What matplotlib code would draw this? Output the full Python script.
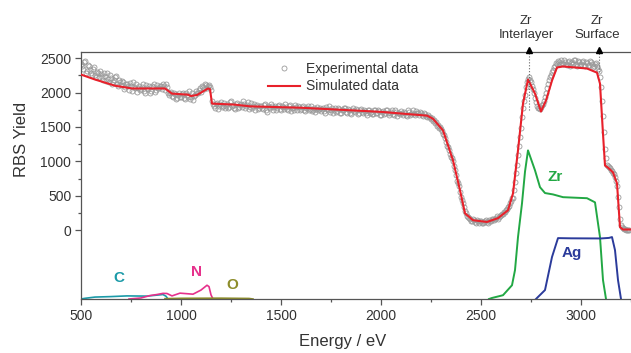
import numpy as np
import matplotlib
matplotlib.use("Agg")
import matplotlib.pyplot as plt
from matplotlib.ticker import FixedLocator, MultipleLocator

plt.rcParams['font.family'] = ['Liberation Sans', 'DejaVu Sans']

# experimental spectrum, channels at 500, 510, 520 ... eV
exp_counts_a = [
    2420, 2350, 2460, 2310, 2380, 2290, 2340, 2250, 2300, 2230,
    2270, 2190, 2240, 2280, 2160, 2210, 2150, 2230, 2120, 2180,
    2110, 2150, 2080, 2130, 2040, 2100, 2160, 2060, 2010, 2090,
    2050, 2120, 1990, 2070, 2100, 2030, 2080, 2010, 2110, 2060,
    2090, 2130, 2040, 2080, 1960, 2010, 1930, 1980, 1920, 1990,
    1940, 1990, 1910, 1960, 2020, 1930, 1890, 1960, 2000, 2040,
    2010, 2080, 2130, 2070, 2110, 2040, 1830, 1780, 1850, 1800,
    1860, 1810, 1770, 1840, 1790, 1880, 1820, 1760, 1850, 1790,
    1830, 1880, 1770, 1820, 1760, 1850, 1800, 1740, 1820, 1780,
    1810, 1760, 1830, 1720, 1790, 1840, 1750, 1800, 1770, 1820,
    1740, 1790, 1830, 1760, 1800, 1730, 1780, 1820, 1750, 1790,
    1760, 1810, 1730, 1780, 1740, 1800, 1750, 1720, 1790, 1760,
    1730, 1780, 1710, 1760, 1800, 1740, 1700, 1770, 1730, 1760,
    1710, 1750, 1780, 1700, 1740, 1690, 1770, 1720, 1750, 1700,
    1760, 1710, 1730, 1680, 1750, 1720, 1690, 1740, 1700, 1730,
    1680, 1730, 1700, 1750, 1670, 1720, 1690, 1740, 1660, 1710,
    1730, 1680, 1710, 1660, 1720, 1690, 1740, 1680, 1710, 1670,
    1700, 1660, 1690, 1640, 1650, 1620, 1580, 1560, 1520, 1480,
    1470, 1400, 1340, 1230, 1170, 1060, 1010, 870, 720, 640,
    480, 390, 280, 210, 180, 140, 160, 120, 150, 110,
    130, 100, 140, 120, 150, 130, 170, 160, 200, 190,
    220, 240, 270, 310, 350, 430, 470, 700, 950, 1230,
    1480, 1780, 1960, 2150, 2230, 2160, 2050, 1920, 1800, 1770,
    1790, 1840, 1930, 2060, 2180, 2260, 2330, 2390, 2420, 2440,
    2470, 2420, 2450, 2400, 2460, 2430, 2410, 2470, 2390, 2440,
    2420, 2460, 2380, 2430, 2400, 2450, 2370, 2410, 2390, 2310,
    2080, 1660, 1180, 950, 920, 880, 830, 780, 640, 330,
    80, 30, 20, 10, 0,
]
# channels at 505, 515, 525 ... eV
exp_counts_b = [
    2380, 2440, 2290, 2400, 2330, 2260, 2370, 2220, 2280, 2320,
    2230, 2290, 2170, 2200, 2260, 2130, 2190, 2240, 2100, 2150,
    2170, 2050, 2120, 2090, 2140, 2030, 2080, 2120, 2070, 2040,
    2080, 2020, 2110, 2050, 2000, 2090, 2130, 2040, 2070, 2100,
    2050, 2100, 2120, 1990, 2000, 1950, 1990, 1910, 1960, 1940,
    1980, 1920, 2000, 1940, 1900, 1990, 1950, 2030, 1990, 2060,
    2090, 2050, 2110, 2100, 2080, 1880, 1800, 1830, 1760, 1840,
    1790, 1850, 1800, 1770, 1860, 1810, 1780, 1830, 1770, 1820,
    1790, 1840, 1800, 1860, 1790, 1770, 1830, 1800, 1760, 1810,
    1780, 1820, 1750, 1800, 1770, 1810, 1790, 1740, 1810, 1760,
    1800, 1760, 1790, 1740, 1820, 1770, 1750, 1790, 1810, 1740,
    1790, 1750, 1770, 1810, 1760, 1730, 1780, 1760, 1740, 1780,
    1760, 1730, 1790, 1740, 1720, 1770, 1750, 1720, 1780, 1710,
    1740, 1770, 1720, 1760, 1710, 1750, 1730, 1760, 1690, 1740,
    1720, 1750, 1700, 1740, 1710, 1690, 1750, 1710, 1740, 1680,
    1720, 1690, 1740, 1700, 1710, 1750, 1680, 1720, 1700, 1690,
    1700, 1720, 1680, 1740, 1670, 1710, 1690, 1730, 1700, 1720,
    1680, 1710, 1660, 1680, 1640, 1630, 1600, 1570, 1530, 1500,
    1440, 1380, 1280, 1210, 1110, 1050, 940, 800, 690, 560,
    440, 330, 250, 190, 160, 130, 150, 110, 140, 130,
    110, 120, 150, 110, 140, 160, 150, 180, 170, 210,
    230, 260, 290, 330, 390, 470, 590, 830, 1100, 1350,
    1640, 1880, 2080, 2200, 2190, 2100, 1990, 1860, 1780, 1760,
    1820, 1880, 1990, 2120, 2220, 2300, 2370, 2430, 2460, 2410,
    2430, 2480, 2410, 2440, 2390, 2450, 2470, 2420, 2460, 2400,
    2450, 2400, 2440, 2390, 2460, 2410, 2380, 2430, 2350, 2230,
    1880, 1420, 1050, 940, 900, 860, 810, 720, 480, 160,
    50, 20, 10, 10,
]
exp_energy = np.concatenate([500 + 10 * np.arange(len(exp_counts_a)),
                             505 + 10 * np.arange(len(exp_counts_b))])
exp_counts = np.concatenate([exp_counts_a, exp_counts_b])

# simulated spectrum
sim_energy = [500, 570, 670, 755, 920, 955, 1035, 1050, 1080, 1135, 1145, 1155,
              1270, 1345, 1600, 2000, 2230, 2260, 2310, 2360, 2395, 2420, 2460,
              2530, 2585, 2635, 2660, 2685, 2710, 2735, 2770, 2800, 2825, 2855,
              2880, 2910, 3030, 3080, 3095, 3110, 3120, 3135, 3160, 3180, 3195,
              3210, 3250]
sim_counts = [2262, 2190, 2100, 2060, 2060, 1985, 1970, 1950, 1965, 2060, 2050, 1840,
              1825, 1800, 1780, 1720, 1665, 1620, 1450, 1015, 580, 245, 145,
              120, 175, 290, 535, 1160, 1840, 2190, 1985, 1725, 1885, 2175,
              2365, 2380, 2350, 2290, 2130, 1400, 940, 910, 840, 680, 45,
              10, 10]

# element contributions (offset to the bottom of the plot)
c_energy = [500, 520, 570, 650, 730, 830, 910, 925, 935]
c_counts = [-1000, -990, -972, -965, -955, -958, -935, -960, -1000]
n_energy = [740, 800, 845, 880, 910, 930, 955, 995, 1060, 1100, 1130, 1140, 1150, 1160]
n_counts = [-1000, -985, -950, -935, -918, -920, -955, -915, -930, -870, -800, -820, -940, -1000]
o_energy = [920, 1000, 1200, 1340, 1360]
o_counts = [-995, -990, -988, -992, -1000]
zr_energy = [2540, 2555, 2610, 2655, 2670, 2685, 2705, 2720, 2735, 2770, 2795, 2820,
             2860, 2910, 3030, 3070, 3085, 3095, 3110, 3125]
zr_counts = [-1000, -985, -945, -800, -580, -100, 390, 850, 1160, 870, 625, 540,
             520, 480, 465, 405, 100, -100, -725, -1000]
ag_energy = [2775, 2780, 2820, 2855, 2885, 2950, 3100, 3140, 3155, 3170, 3185, 3200]
ag_counts = [-1000, -985, -870, -390, -115, -118, -120, -112, -100, -290, -725, -1000]

fig = plt.figure(figsize=(6.31, 3.53), dpi=100)
ax = fig.add_axes([81 / 631, 1 - 299 / 353, 550 / 631, 247 / 353])

ax.plot(exp_energy, exp_counts, 'o', ms=3.6, mfc='none', mec='#9a9a9a', mew=0.6,
        label='Experimental data', zorder=2)
ax.plot(sim_energy, sim_counts, color='#e8202a', lw=1.5, label='Simulated data', zorder=3)

ax.plot(c_energy, c_counts, color='#1b9aa8', lw=1.2)
ax.plot(n_energy, n_counts, color='#e6318c', lw=1.2)
ax.plot(o_energy, o_counts, color='#8d8d2b', lw=1.2)
ax.plot(zr_energy, zr_counts, color='#22a844', lw=1.4)
ax.plot(ag_energy, ag_counts, color='#2b3b9b', lw=1.4)

lbl = dict(fontsize=11, fontweight='bold', ha='center', va='center')
ax.text(690, -700, 'C', color='#1b9aa8', **lbl)
ax.text(1080, -610, 'N', color='#e6318c', **lbl)
ax.text(1255, -800, 'O', color='#8d8d2b', **lbl)
ax.text(2870, 770, 'Zr', color='#22a844', **lbl)
ax.text(2955, -335, 'Ag', color='#2b3b9b', **lbl)

ytop = 2590
ax.set_xlim(500, 3250)
ax.set_ylim(-1000, ytop)

# Zr markers above the frame
for xe, ylo, xt, txt in [(2740, 1740, 2725, 'Zr\nInterlayer'), (3090, 2300, 3080, 'Zr\nSurface')]:
    ax.plot([xe, xe], [ylo, ytop], ls=':', color='#666666', lw=0.8, zorder=4)
    ax.plot(xe, ytop + 25, marker='^', color='black', ms=4.5, clip_on=False, zorder=5)
    ax.annotate(txt, xy=(xt, ytop), xytext=(0, 8), textcoords='offset points',
                ha='center', va='bottom', fontsize=9.5, color='#333333',
                linespacing=1.25, annotation_clip=False)

for side in ['left', 'top', 'bottom']:
    ax.spines[side].set_color('#555555')
    ax.spines[side].set_linewidth(0.9)
ax.spines['right'].set_visible(False)

ax.xaxis.set_major_locator(MultipleLocator(500))
ax.xaxis.set_minor_locator(MultipleLocator(250))
ax.yaxis.set_major_locator(FixedLocator([0, 500, 1000, 1500, 2000, 2500]))
ax.yaxis.set_minor_locator(FixedLocator([250, 750, 1250, 1750, 2250]))
ax.tick_params(which='major', length=4, width=0.9, color='#555555', labelsize=10,
               labelcolor='#333333', pad=3)
ax.tick_params(which='minor', length=2.5, width=0.9, color='#555555')

ax.set_xlabel('Energy / eV', fontsize=12, color='#333333')
ax.set_ylabel('RBS Yield', fontsize=12, color='#333333')
ax.xaxis.set_label_coords(0.475, -0.142)
ax.yaxis.set_label_coords(-0.0945, 0.644)

ax.legend(loc='upper left', bbox_to_anchor=(268 / 631, 1 - 62 / 353),
          bbox_transform=fig.transFigure, frameon=False, fontsize=10,
          borderpad=0, borderaxespad=0, handlelength=2.3, handletextpad=0.4,
          labelspacing=0.25, labelcolor='#333333')

fig.savefig('out.png', dpi=100)
